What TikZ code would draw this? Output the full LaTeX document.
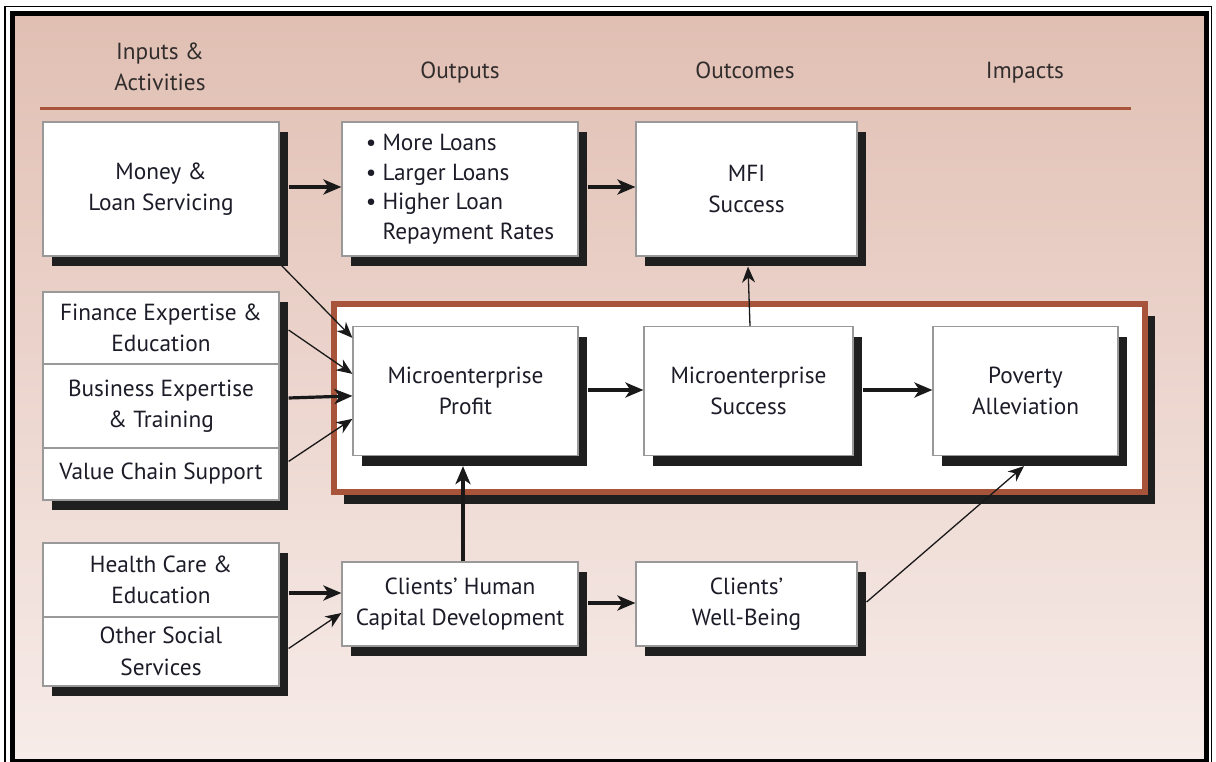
\documentclass[tikz,border=0pt]{standalone}
\usepackage{fontspec}
\setmainfont{PT Sans}
\usetikzlibrary{shadows,arrows.meta}
\definecolor{bgtop}{RGB}{225,191,179}
\definecolor{bgbot}{RGB}{247,236,233}
\definecolor{rust}{RGB}{168,84,58}
\definecolor{txt}{RGB}{28,28,40}
\definecolor{hdr}{RGB}{50,45,45}
\newcommand\fsz{\fontsize{23.3}{31.5}\selectfont}
\newcommand\fszb{\fontsize{23.3}{29.5}\selectfont}
\tikzset{
  box/.style={draw=black!40,line width=1.2pt,fill=white,inner sep=0pt,align=center,
    font=\fsz,text=txt,
    drop shadow={shadow xshift=9pt,shadow yshift=-10pt,opacity=1,fill=black!88}},
  hdrtext/.style={font=\fsz,text=hdr,align=center,inner sep=0pt},
  hdrone/.style={hdrtext,text height=17pt,text depth=5pt},
  thickarr/.style={line width=3.2pt,-{Stealth[length=18pt,width=15pt,inset=5pt]},black!90},
  thinarr/.style={line width=1.3pt,-{Stealth[length=16pt,width=13pt,inset=5pt]},black!90},
}
\begin{document}
\begin{tikzpicture}[x=1pt,y=-1pt]
\useasboundingbox (0,0) rectangle (1216,762);
% background and frame
\fill[white] (0,0) rectangle (1216,762);
\fill[top color=bgtop,bottom color=bgbot] (12,13) rectangle (1206,760);
\draw[line width=5pt] (12.5,13.5) -- (1206,13.5) -- (1206,761) -- (12.5,761) -- cycle;
\draw[line width=1.2pt] (5,763) -- (5,6.5) -- (1211.5,6.5) -- (1211.5,763);
% headers
\node[hdrtext] (h1) at (160,67) {Inputs \&\\Activities};
\node[hdrone] (h2) at (460,73) {Outputs};
\node[hdrone] (h3) at (745,73) {Outcomes};
\node[hdrone] (h4) at (1025,73) {Impacts};
\coordinate (rl) at (40,109);
\coordinate (rr) at (1131,109);
\draw[rust,line width=3pt] (rl) -- (rr);
% highlight frame
\node[draw=rust,line width=6pt,fill=white,inner sep=0pt,minimum width=811pt,minimum height=188pt,
  drop shadow={shadow xshift=10pt,shadow yshift=-12pt,opacity=1,fill=black!88}] (hl) at (739.5,398) {};
% top row
\node[box,minimum width=236pt,minimum height=134pt] (money) at (161,189) {Money \&\\Loan Servicing};
\node[box,minimum width=236pt,minimum height=134pt,align=left,font=\fszb] (bul) at (460,189)
  {\textbullet\ More Loans\\\textbullet\ Larger Loans\\\textbullet\ Higher Loan\\\phantom{\textbullet\ }Repayment Rates};
\node[box,minimum width=221pt,minimum height=134pt] (mfi) at (746.5,189) {MFI\\Success};
% left stacked
\node[box,minimum width=236pt,minimum height=72pt] (fin) at (161,328) {Finance Expertise \&\\Education};
\node[box,minimum width=236pt,minimum height=84pt] (bus) at (161,406) {Business Expertise\\\& Training};
\node[box,minimum width=236pt,minimum height=52pt] (val) at (161,474) {Value Chain Support};
% middle row
\node[box,minimum width=225pt,minimum height=129pt] (prof) at (465.5,391) {Microenterprise\\Profit};
\node[box,minimum width=209pt,minimum height=129pt] (succ) at (748.5,391) {Microenterprise\\Success};
\node[box,minimum width=185pt,minimum height=129pt] (pov) at (1025.5,391) {Poverty\\Alleviation};
% bottom
\node[box,minimum width=236pt,minimum height=74pt] (hea) at (161,580) {Health Care \&\\Education};
\node[box,minimum width=236pt,minimum height=69pt] (oth) at (161,651.5) {Other Social\\Services};
\node[box,minimum width=236pt,minimum height=84pt] (hc) at (460,604) {Clients’ Human\\Capital Development};
\node[box,minimum width=221pt,minimum height=84pt] (wb) at (746.5,604) {Clients’\\Well-Being};
% connectors
\draw[thickarr] ([xshift=9pt,yshift=2pt]money.east) -- ([yshift=2pt]bul.west);
\draw[thickarr] ([xshift=9pt,yshift=2pt]bul.east) -- ([yshift=2pt]mfi.west);
\draw[thinarr] ([xshift=1.5pt]succ.north) -- ([xshift=1.5pt,yshift=-10pt]mfi.south);
\draw[thinarr] ([xshift=2pt,yshift=-9pt]money.south east) -- ([yshift=-12pt]prof.north west);
\draw[thinarr] ([xshift=9pt,yshift=-2pt]fin.east) -- ([yshift=-48pt]prof.north west);
\draw[thickarr] ([xshift=9pt,yshift=8pt]bus.east) -- ([yshift=-70pt]prof.north west);
\draw[thinarr] ([xshift=9pt,yshift=-14pt]val.north east) -- ([yshift=-93pt]prof.north west);
\draw[thickarr] ([xshift=9pt,yshift=1pt]prof.east) -- ([yshift=1pt]succ.west);
\draw[thickarr] ([xshift=9pt,yshift=1pt]succ.east) -- ([yshift=1pt]pov.west);
\draw[thickarr] ([xshift=3pt]hc.north) -- ([xshift=3pt,yshift=-10pt]hc.north |- prof.south);
\draw[thickarr] ([xshift=9pt,yshift=-13pt]hea.east) -- ([yshift=11pt]hc.west);
\draw[thinarr] ([xshift=9pt,yshift=3pt]oth.east) -- ([yshift=-9pt]hc.west);
\draw[thickarr] ([xshift=9pt,yshift=1pt]hc.east) -- ([yshift=1pt]wb.west);
\draw[thinarr] ([xshift=9pt,yshift=2pt]wb.east) -- ([xshift=-1.5pt,yshift=-10pt]pov.south);
\end{tikzpicture}
\end{document}
